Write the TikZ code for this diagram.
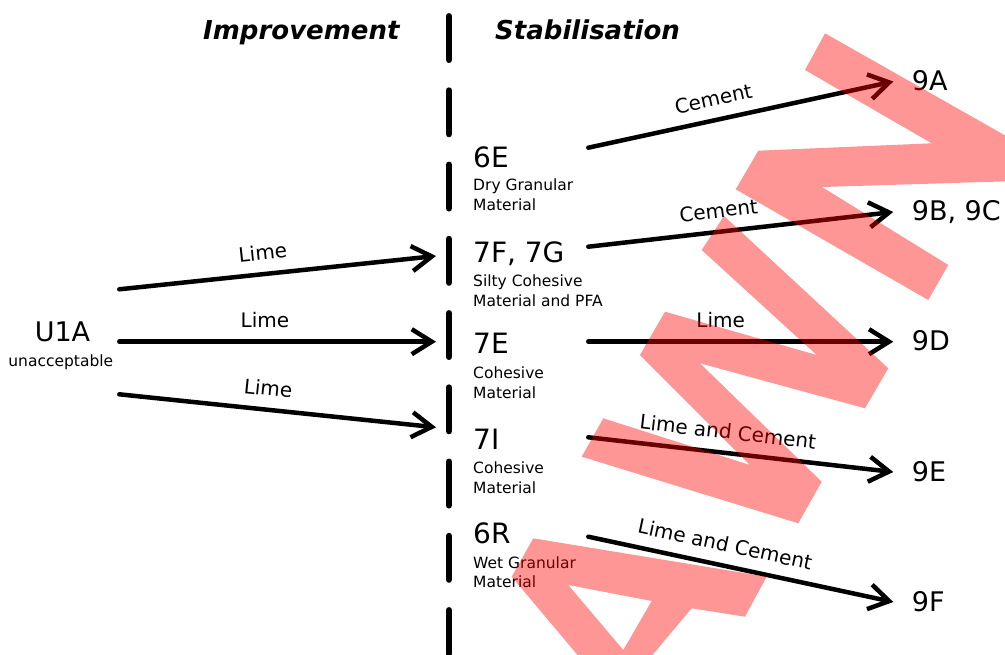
\documentclass[tikz,border=0pt]{standalone}
\usepackage{fontspec}
\setmainfont{DejaVu Sans}[ItalicFont={DejaVu Sans Oblique},BoldFont={DejaVu Sans Bold},BoldItalicFont={DejaVu Sans Bold Oblique}]
\usetikzlibrary{arrows.meta}
\begin{document}
\begin{tikzpicture}[x=1pt,y=-1pt,
  code/.style={anchor=base west, inner sep=0pt, font=\fontsize{28}{30}\selectfont},
  desc/.style={anchor=base west, inner sep=0pt, font=\fontsize{15.5}{18}\selectfont},
  target/.style={anchor=base west, inner sep=0pt, font=\fontsize{27}{30}\selectfont},
  head/.style={anchor=base west, inner sep=0pt, font=\bfseries\itshape\fontsize{26}{30}\selectfont},
  flow/.style={line width=4.5pt, line cap=round, -{Straight Barb[length=20pt,width=25pt]}},
  lab/.style={sloped, above=11.5pt, inner sep=0pt, font=\fontsize{20}{22}\selectfont},
  sepline/.style={line width=6.5pt, line cap=round, dash pattern=on 43.5pt off 30.75pt},
  wm/.style={fill=red, fill opacity=0.41, draw=none}
]
\useasboundingbox (0,0) rectangle (1005,654);

% headers
\node[head] (himp) at (203,39.3) {Improvement};
\node[head] (hstab) at (495,39.3) {Stabilisation};

% separator
\coordinate (septop) at (449,16.3);
\coordinate (sepbot) at (449,680);
\draw[sepline] (septop) -- (sepbot);

% source
\node[anchor=base, inner sep=0pt, font=\fontsize{27}{30}\selectfont] (u1a) at (62.5,341.7) {U1A};
\node[anchor=base, inner sep=0pt, font=\fontsize{15.5}{18}\selectfont] (u1ad) at (60.8,366.7) {unacceptable};

% middle classes
\node[code] (c6E) at (473,167) {6E};
\node[desc] (c6Ea) at (473,190.7) {Dry Granular};
\node[desc] (c6Eb) at (473,210.5) {Material};

\node[code] (c7F) at (473,262) {7F, 7G};
\node[desc] (c7Fa) at (473,286.5) {Silty Cohesive};
\node[desc] (c7Fb) at (473,306.3) {Material and PFA};

\node[code] (c7E) at (473,353) {7E};
\node[desc] (c7Ea) at (473,378) {Cohesive};
\node[desc] (c7Eb) at (473,398) {Material};

\node[code] (c7I) at (473,449.3) {7I};
\node[desc] (c7Ia) at (473,473.3) {Cohesive};
\node[desc] (c7Ib) at (473,493.3) {Material};

\node[code] (c6R) at (473,543.5) {6R};
\node[desc] (c6Ra) at (473,568) {Wet Granular};
\node[desc] (c6Rb) at (473,587) {Material};

% targets
\node[target] (t9A) at (911.7,90.7) {9A};
\node[target] (t9B) at (911.7,220.7) {9B, 9C};
\node[target] (t9D) at (911.7,350.7) {9D};
\node[target] (t9E) at (911.7,481) {9E};
\node[target] (t9F) at (911.7,611) {9F};

% connector end points
\coordinate (L1s) at (119.3,289.3); \coordinate (L1e) at (436,256);
\coordinate (L2s) at (119.3,341.7); \coordinate (L2e) at (436,341.7);
\coordinate (L3s) at (119.3,394.3); \coordinate (L3e) at (436,427.3);
\coordinate (R1s) at (588.3,147.7); \coordinate (R1e) at (893.3,81.5);
\coordinate (R2s) at (588.3,246.7); \coordinate (R2e) at (893.3,212);
\coordinate (R3s) at (588.3,341.7); \coordinate (R3e) at (893.3,341.7);
\coordinate (R4s) at (588.3,437.3); \coordinate (R4e) at (893.3,472);
\coordinate (R5s) at (588.3,536.7); \coordinate (R5e) at (893.3,602);

\draw[flow] (L1s) -- node[lab, pos=0.46] (lL1) {Lime} (L1e);
\draw[flow] (L2s) -- node[lab, pos=0.46] (lL2) {Lime} (L2e);
\draw[flow] (L3s) -- node[lab, pos=0.463] (lL3) {Lime} (L3e);

\draw[flow] (R1s) -- node[lab, pos=0.425] (lR1) {Cement} (R1e);
\draw[flow] (R2s) -- node[lab, pos=0.435] (lR2) {Cement} (R2e);
\draw[flow] (R3s) -- node[lab, pos=0.434] (lR3) {Lime} (R3e);
\draw[flow] (R4s) -- node[lab, pos=0.45] (lR4) {Lime and Cement} (R4e);
\draw[flow] (R5s) -- node[lab, pos=0.434] (lR5) {Lime and Cement} (R5e);

% watermark
\begin{scope}
\clip (0,0) rectangle (1005,654);
\fill[wm] (825,33.3) -- (1082,179) -- (822,187) -- (948.3,265) -- (928.3,300) -- (735.7,189.3) -- (758.3,150.7) -- (931.7,143.3) -- (805,70) -- cycle;
\fill[wm] (603.3,418.3) -- (750,465) -- (640,355) -- (665,311.7) -- (816.7,355) -- (701.7,250) -- (724,216) -- (888.3,368.3) -- (865,408.3) -- (700,363.3) -- (821.7,481.7) -- (798.3,523.3) -- (581.7,456.7) -- cycle;
\fill[wm, even odd rule] (533.3,538.3) -- (766.7,576.7) -- (745,616.7) -- (691.7,608.3) -- (623,690) -- (607,690) -- (511.7,576.7) -- cycle
  (568.3,585) -- (651.7,601) -- (623.3,650) -- cycle;
\end{scope}
\end{tikzpicture}
\end{document}
